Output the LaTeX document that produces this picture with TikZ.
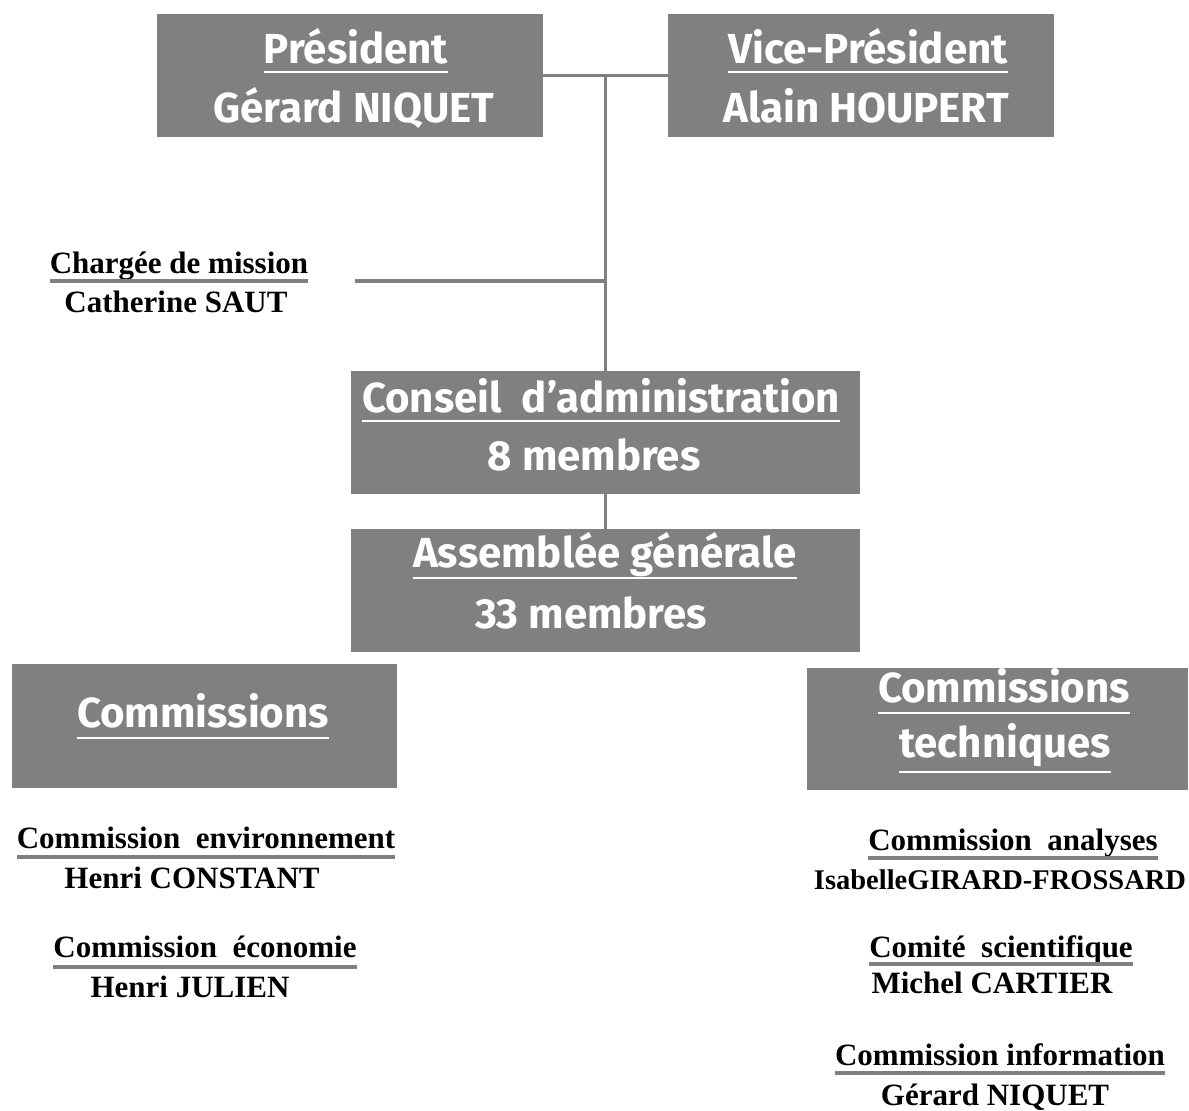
\documentclass[tikz,border=0pt]{standalone}
\usepackage{fontspec}
\setmainfont{Liberation Serif}
\newfontfamily\boxfont{Fira Sans}
\usepackage{tikz}
\usetikzlibrary{positioning}
\definecolor{CAgray}{HTML}{808080}
\tikzset{
  orgbox/.style={fill=CAgray, inner sep=0pt, minimum width=386pt, minimum height=123pt},
  boxtext/.style={text=white, anchor=base, inner sep=0pt, font=\boxfont\bfseries\fontsize{42}{48}\selectfont},
  persontext/.style={anchor=base, inner sep=0pt, font=\bfseries\fontsize{31}{36}\selectfont},
  ulwhite/.style={append after command={([yshift=-#1]\tikzlastnode.base west) edge[draw=white, line width=2.5pt] ([yshift=-#1]\tikzlastnode.base east)}},
  ulwhite/.default=9pt,
  ulgray/.style={append after command={([yshift=-#1]\tikzlastnode.base west) edge[draw=CAgray, line width=4pt] ([yshift=-#1]\tikzlastnode.base east)}},
  ulgray/.default=9pt,
  link/.style={draw=CAgray, line width=3.5pt}
}
\begin{document}
\begin{tikzpicture}[x=1pt,y=-1pt]
  \useasboundingbox (0,0) rectangle (1189,1111);
  % boxes
  \node[orgbox] (pres) at (350,75.5) {};
  \node[orgbox] (vice) at (861,75.5) {};
  \node[orgbox, minimum width=509pt] (conseil) at (605.5,432.5) {};
  \node[orgbox, minimum width=509pt] (ag) at (605.5,590.5) {};
  \node[orgbox, minimum width=385pt, minimum height=124pt] (comm) at (204.5,726) {};
  \node[orgbox, minimum width=381pt, minimum height=122pt] (commtech) at (997.5,729) {};
  % connectors
  \coordinate (mission) at (355,281);
  \draw[link] (pres) -- (vice);
  \draw[link] (pres.east -| conseil.north) -- (conseil.north);
  \draw[link] (mission) -- (mission -| conseil.north);
  \draw[link] (conseil) -- (ag);
  % box texts
  \node[boxtext, ulwhite] (prestitle) at (356,63) {Président};
  \node[boxtext] (presname) at (354,122) {Gérard NIQUET};
  \node[boxtext, ulwhite] (vicetitle) at (868,63) {Vice-Président};
  \node[boxtext] (vicename) at (866,122) {Alain HOUPERT};
  \node[boxtext, ulwhite] (conseiltitle) at (601,412) {Conseil\ \ d’administration};
  \node[boxtext] (conseilnb) at (594,470) {8 membres};
  \node[boxtext, ulwhite=11pt] (agtitle) at (605,567) {Assemblée générale};
  \node[boxtext] (agnb) at (591,628) {33 membres};
  \node[boxtext, ulwhite=11pt] (commtitle) at (203,727) {Commissions};
  \node[boxtext, ulwhite=11pt] (techtitle1) at (1004,702) {Commissions};
  \node[boxtext, ulwhite=15pt] (techtitle2) at (1005,757) {techniques};
  % persons
  \node[persontext, ulgray=8pt] (missiontitle) at (179,273) {Chargée de mission};
  \node[persontext] (missionname) at (176,312) {Catherine SAUT};
  \node[persontext, ulgray] (envtitle) at (206,848) {Commission\ \ environnement};
  \node[persontext] (envname) at (192,888) {Henri CONSTANT};
  \node[persontext, ulgray=10pt] (ecotitle) at (205,957) {Commission\ \ économie};
  \node[persontext] (econame) at (190,997) {Henri JULIEN};
  \node[persontext, ulgray=8pt] (anatitle) at (1013,850) {Commission\ \ analyses};
  \node[persontext, font=\bfseries\fontsize{28.5}{34}\selectfont] (ananame) at (1000,889) {IsabelleGIRARD-FROSSARD};
  \node[persontext, ulgray=7pt] (scititle) at (1001,957) {Comité\ \ scientifique};
  \node[persontext] (sciname) at (992,993) {Michel CARTIER};
  \node[persontext, ulgray=8pt] (infotitle) at (1000,1065) {Commission information};
  \node[persontext] (infoname) at (995,1105) {Gérard NIQUET};
\end{tikzpicture}
\end{document}
